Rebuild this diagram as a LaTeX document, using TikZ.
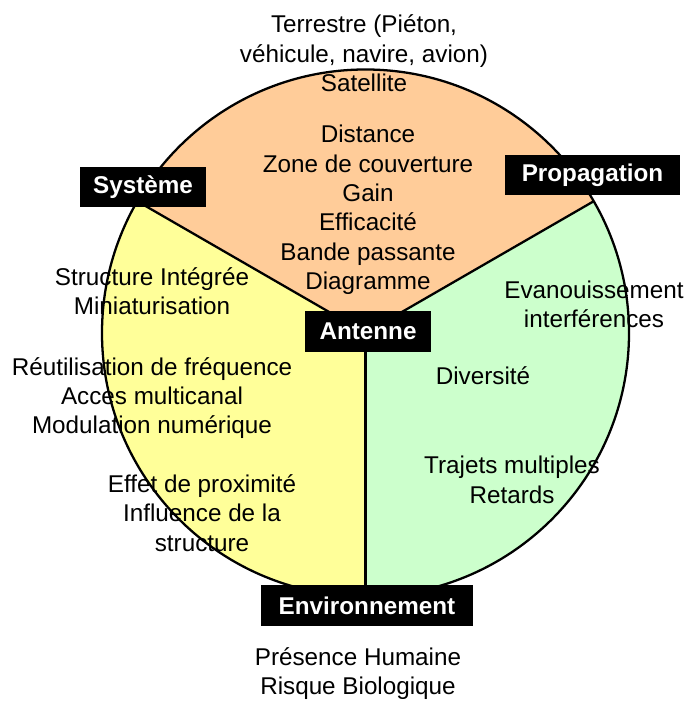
\documentclass[tikz,border=0pt]{standalone}
\usepackage{fontspec}
\setmainfont{Liberation Sans}
\definecolor{propcol}{HTML}{FFCC99}
\definecolor{syscol}{HTML}{FFFF99}
\definecolor{envcol}{HTML}{CCFFCC}
\tikzset{
  blackbox/.style={fill=black,text=white,font=\bfseries\fontsize{13.8}{16.7}\selectfont,minimum height=0.81cm,inner xsep=0pt},
  info/.style={align=center,font=\fontsize{13.8}{16.7}\selectfont}
}

\begin{document}
\begin{tikzpicture}
\useasboundingbox (-7.31,-7.38) rectangle (6.41,6.66);
\def\rad{5.27}
\fill[propcol] (0,0) -- (30:\rad) arc[start angle=30,end angle=150,radius=\rad] -- cycle;
\fill[syscol] (0,0) -- (150:\rad) arc[start angle=150,end angle=270,radius=\rad] -- cycle;
\fill[envcol] (0,0) -- (270:\rad) arc[start angle=270,end angle=390,radius=\rad] -- cycle;
\draw[line width=1.3pt] (0,0) circle (\rad);
\draw[line width=1.3pt] (150:\rad) -- (0,0) -- (30:\rad);
\draw[line width=1.3pt] (0,0) -- (270:\rad);
\node[info] (terr) at (-0.03,5.59) {Terrestre (Piéton,\\véhicule, navire, avion)\\Satellite};
\node[info] (dist) at (0.05,2.46) {Distance\\Zone de couverture\\Gain\\Efficacité\\Bande passante\\Diagramme};
\node[info] (struct) at (-4.27,0.83) {Structure Intégrée\\Miniaturisation};
\node[info] (reuse) at (-4.27,-1.30) {Réutilisation de fréquence\\Acces multicanal\\Modulation numérique};
\node[info] (prox) at (-3.27,-3.60) {Effet de proximité\\Influence de la\\structure};
\node[info] (fading) at (4.57,0.57) {Evanouissement\\interférences};
\node[info] (divers) at (2.35,-0.86) {Diversité};
\node[info] (paths) at (2.93,-2.94) {Trajets multiples\\Retards};
\node[info] (human) at (-0.15,-6.81) {Présence Humaine\\Risque Biologique};
\node[blackbox,minimum width=2.52cm] (system) at (-4.45,2.92) {Système};
\node[blackbox,minimum width=3.5cm] (propag) at (4.54,3.16) {Propagation};
\node[blackbox,minimum width=2.51cm] (antenna) at (0.05,0.03) {Antenne};
\node[blackbox,minimum width=4.23cm] (environ) at (0.03,-5.45) {Environnement};
\end{tikzpicture}
\end{document}
